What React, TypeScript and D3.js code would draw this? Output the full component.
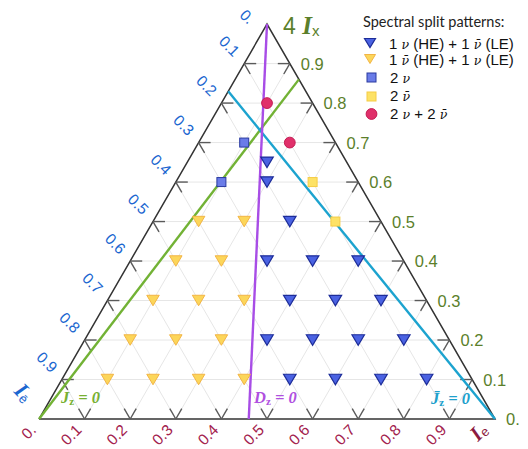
import React from "react";
import * as d3 from "d3";

// Ternary data as [Ix, Ie]  (Iē = 1 - Ix - Ie)
const blueTriangles: [number, number][] = [
  [0.1, 0.5], [0.1, 0.6], [0.1, 0.7], [0.1, 0.8],
  [0.2, 0.4], [0.2, 0.5], [0.2, 0.6], [0.2, 0.7],
  [0.3, 0.4], [0.3, 0.5], [0.3, 0.6],
  [0.4, 0.3], [0.4, 0.4], [0.4, 0.5],
  [0.5, 0.3],
  [0.6, 0.2],
  [0.65, 0.175],
];
const yellowTriangles: [number, number][] = [
  [0.1, 0.1], [0.1, 0.2], [0.1, 0.3], [0.1, 0.4],
  [0.2, 0.1], [0.2, 0.2], [0.2, 0.3],
  [0.3, 0.1], [0.3, 0.2], [0.3, 0.3],
  [0.4, 0.1], [0.4, 0.2],
  [0.5, 0.1], [0.5, 0.2],
];
const blueSquares: [number, number][] = [[0.6, 0.1], [0.7, 0.1]];
const yellowSquares: [number, number][] = [[0.6, 0.3], [0.5, 0.4]];
const redCircles: [number, number][] = [[0.8, 0.1], [0.7, 0.2]];

// Curves [Ix, Ie]
const dzLine: [number, number][] = [[1, 0], [0, 0.46]];
const jzLine: [number, number][] = [[0, 0], [0.86, 0.14]];
const jbarLine: [number, number][] = [[0, 1], [0.83, 0]];

const tickValues = [0, 0.1, 0.2, 0.3, 0.4, 0.5, 0.6, 0.7, 0.8, 0.9];
const tickLabels = ["0.", "0.1", "0.2", "0.3", "0.4", "0.5", "0.6", "0.7", "0.8", "0.9"];
const gridValues = [0.1, 0.2, 0.3, 0.4, 0.5, 0.6, 0.7, 0.8, 0.9];

const S3 = Math.sqrt(3) / 2;
const xScale = d3.scaleLinear().domain([0, 1]).range([39, 495]);
const yScale = d3.scaleLinear().domain([0, S3]).range([419, 24.1]);
const P = (ix: number, ie: number): [number, number] => [xScale(ie + ix / 2), yScale(ix * S3)];

const GREEN_T = "#5b7f2b";
const BLUE_T = "#1a66d0";
const RED_T = "#a3224e";
const TL = 12 / 456;

const lineGen = d3.line<[number, number]>().x((d) => P(d[0], d[1])[0]).y((d) => P(d[0], d[1])[1]);

function seg(a: [number, number], b: [number, number], key: string, stroke: string, w: number) {
  const p = P(a[0], a[1]);
  const q = P(b[0], b[1]);
  return <line key={key} x1={p[0]} y1={p[1]} x2={q[0]} y2={q[1]} stroke={stroke} strokeWidth={w} />;
}

const triPath = (w: number, h: number) => `M${-w / 2},${-h / 2}L${w / 2},${-h / 2}L0,${h / 2}Z`;

function Nu({ bar }: { bar?: boolean }) {
  return (
    <tspan fontFamily="DejaVu Serif" fontStyle="italic" fontSize={12.5}>
      {bar ? "\u03BD\u0304" : "\u03BD"}
    </tspan>
  );
}

export default function App() {
  const grid: JSX.Element[] = [];
  gridValues.forEach((v, i) => {
    grid.push(seg([v, 0], [v, 1 - v], "gx" + i, "#e6e6e6", 1));
    grid.push(seg([0, v], [1 - v, v], "ge" + i, "#e6e6e6", 1));
    grid.push(seg([0, 1 - v], [1 - v, 0], "gb" + i, "#e6e6e6", 1));
  });
  const ticks: JSX.Element[] = [];
  gridValues.forEach((v, i) => {
    ticks.push(seg([0, v], [TL, v], "tb1" + i, "#5a5a5a", 1.4));
    ticks.push(seg([0, v], [TL, v - TL], "tb2" + i, "#5a5a5a", 1.4));
    ticks.push(seg([1 - v, 0], [1 - v, TL], "tl1" + i, "#5a5a5a", 1.4));
    ticks.push(seg([1 - v, 0], [1 - v - TL, TL], "tl2" + i, "#5a5a5a", 1.4));
    ticks.push(seg([v, 1 - v], [v, 1 - v - TL], "tr1" + i, "#5a5a5a", 1.4));
    ticks.push(seg([v, 1 - v], [v - TL, 1 - v], "tr2" + i, "#5a5a5a", 1.4));
  });

  return (
    <svg width={528} height={449} style={{ position: "absolute", left: 0, top: 0, background: "#fff" }}>
      <rect width={528} height={449} fill="#fff" />
      {grid}
      <path
        d={lineGen([[0, 0], [0, 1], [1, 0], [0, 0]] as [number, number][]) || ""}
        fill="none"
        stroke="#333"
        strokeWidth={1.5}
      />
      {ticks}
      {tickValues.map((v, i) => {
        const [x, y] = P(0, v);
        return (
          <text key={"lb" + i} transform={`translate(${x - 2},${y + 12}) rotate(-45)`} textAnchor="end"
            fontFamily="Liberation Sans, Arial, sans-serif" fontSize={15.5} fill={RED_T}>
            {tickLabels[i]}
          </text>
        );
      })}
      {tickValues.map((v, i) => {
        const [x, y] = P(1 - v, 0);
        const dx = i === 0 ? -19 : -11;
        const dy = i === 0 ? 1 : -6;
        return (
          <text key={"ll" + i} transform={`translate(${x + dx},${y + dy}) rotate(45)`} textAnchor="end"
            fontFamily="Liberation Sans, Arial, sans-serif" fontSize={15.5} fill={BLUE_T}>
            {tickLabels[i]}
          </text>
        );
      })}
      {tickValues.map((v, i) => {
        const [x, y] = P(v, 1 - v);
        return (
          <text key={"lr" + i} x={x + 11} y={y + 6} fontFamily="Liberation Sans, Arial, sans-serif" fontSize={16.5} fill={GREEN_T}>
            {tickLabels[i]}
          </text>
        );
      })}
      <text x={283} y={34} fill={GREEN_T} fontFamily="Liberation Sans, Arial, sans-serif" fontSize={23}>
        4 <tspan fontFamily="Liberation Serif" fontWeight="bold" fontStyle="italic" fontSize={25}>I</tspan>
        <tspan fontSize={15} dy={2}>x</tspan>
      </text>
      <text transform="translate(13,392) rotate(45)" fill={BLUE_T} fontFamily="Liberation Serif" fontWeight="bold" fontSize={22}>
        <tspan fontStyle="italic">I</tspan>
        <tspan fontFamily="Liberation Sans" fontWeight="normal" fontSize={13} dy={2}>{"e\u0304"}</tspan>
      </text>
      <text transform="translate(478,442) rotate(-45)" fill="#8c1a40" fontFamily="Liberation Serif" fontWeight="bold" fontSize={21}>
        <tspan fontStyle="italic">I</tspan>
        <tspan fontFamily="Liberation Sans" fontWeight="normal" fontSize={13} dy={2}>e</tspan>
      </text>

      <path d={lineGen(jzLine) || ""} fill="none" stroke="#72b235" strokeWidth={2.4} />
      <path d={lineGen(jbarLine) || ""} fill="none" stroke="#1ca3cf" strokeWidth={2.4} />
      <path d={lineGen(dzLine) || ""} fill="none" stroke="#a84de6" strokeWidth={2.4} />

      <text x={61} y={403} fill="#78b032" fontFamily="Liberation Serif" fontWeight="bold" fontStyle="italic" fontSize={16.5}>
        J<tspan fontStyle="normal" fontSize={11} dy={2}>z</tspan><tspan dy={-2}> = 0</tspan>
      </text>
      <text x={254} y={403} fill="#b050e0" fontFamily="Liberation Serif" fontWeight="bold" fontStyle="italic" fontSize={16.5}>
        D<tspan fontStyle="normal" fontSize={11} dy={2}>z</tspan><tspan dy={-2}> = 0</tspan>
      </text>
      <text x={431} y={404} fill="#20a0cc" fontFamily="Liberation Serif" fontWeight="bold" fontStyle="italic" fontSize={16.5}>
        {"J\u0304"}<tspan fontStyle="normal" fontSize={11} dy={2}>z</tspan><tspan dy={-2}> = 0</tspan>
      </text>

      {yellowTriangles.map((d, i) => {
        const [x, y] = P(d[0], d[1]);
        return <path key={"yt" + i} d={triPath(12.5, 10.5)} transform={`translate(${x},${y})`} fill="#fcd65a" stroke="#f2b445" strokeWidth={1} />;
      })}
      {blueTriangles.map((d, i) => {
        const [x, y] = P(d[0], d[1]);
        return <path key={"bt" + i} d={triPath(12.5, 10.5)} transform={`translate(${x},${y})`} fill="#4a62e2" stroke="#1c2c99" strokeWidth={1.2} />;
      })}
      {blueSquares.map((d, i) => {
        const [x, y] = P(d[0], d[1]);
        return <rect key={"bs" + i} x={x - 4.5} y={y - 4.5} width={9} height={9} fill="#6a7ce8" stroke="#2a3aa0" strokeWidth={1} />;
      })}
      {yellowSquares.map((d, i) => {
        const [x, y] = P(d[0], d[1]);
        return <rect key={"ys" + i} x={x - 4.5} y={y - 4.5} width={9} height={9} fill="#fde266" stroke="#f5cc44" strokeWidth={1} />;
      })}
      {redCircles.map((d, i) => {
        const [x, y] = P(d[0], d[1]);
        return <circle key={"rc" + i} cx={x} cy={y} r={5.4} fill="#e0306a" stroke="#c41a52" strokeWidth={1} />;
      })}

      <g fontFamily="Liberation Sans, Arial, sans-serif" fontSize={15} fill="#111">
        <text x={363} y={27} fontFamily="Lato" fontSize={14.5} fill="#222">Spectral split patterns:</text>
        <path d={triPath(11, 9)} transform="translate(370,43)" fill="#4a62e2" stroke="#1c2c99" strokeWidth={1.2} />
        <text x={389} y={49}>1 <Nu /> (HE) + 1 <Nu bar /> (LE)</text>
        <path d={triPath(11, 9)} transform="translate(370,59)" fill="#fcd65a" stroke="#f2b445" strokeWidth={1} />
        <text x={389} y={65}>1 <Nu bar /> (HE) + 1 <Nu /> (LE)</text>
        <rect x={367} y={73} width={9} height={9} fill="#6a7ce8" stroke="#2a3aa0" strokeWidth={1} />
        <text x={390} y={83}>2 <Nu /></text>
        <rect x={367} y={92} width={9} height={9} fill="#fde266" stroke="#f5cc44" strokeWidth={1} />
        <text x={390} y={101}>2 <Nu bar /></text>
        <circle cx={371.5} cy={114} r={5.4} fill="#e0306a" stroke="#c41a52" strokeWidth={1} />
        <text x={390} y={119}>2 <Nu /> + 2 <Nu bar /></text>
      </g>
    </svg>
  );
}
